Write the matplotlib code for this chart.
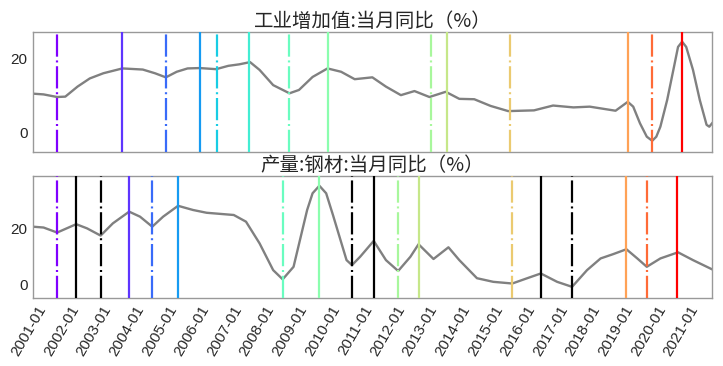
import matplotlib
matplotlib.use("Agg")
import matplotlib.pyplot as plt
import numpy as np

# x = months counted from 2000-01 (0); yearly ticks at every 12th month
tick_pos = list(range(12, 253, 12))
tick_labels = ["%d-01" % y for y in range(2001, 2022)]

# 工业增加值:当月同比
iva_m = [6.1, 10, 15, 18, 22.5, 27, 32, 39, 46.5, 51, 55, 59, 63, 67.5, 73.5, 78, 82, 86,
         89.5, 94.5, 100.5, 104, 109, 114.5, 119.5, 124.5, 131, 136, 141.5, 146.5, 152,
         158, 163, 168.5, 174.5, 181, 190.5, 197.5, 205, 211, 220.5, 225, 227, 229.5,
         232, 234, 235.5, 237, 239.5, 242, 243.5, 245, 246.5, 249, 251.5, 254, 255, 256]
iva_v = [10.5, 10.3, 9.6, 9.7, 12.4, 14.6, 16.0, 17.3, 17.0, 16.0, 14.9, 16.4, 17.3,
         17.4, 17.1, 18.0, 18.4, 19.0, 16.9, 12.8, 10.6, 11.5, 15.0, 17.3, 16.4, 14.4,
         14.9, 12.4, 10.1, 11.2, 9.6, 11.0, 9.1, 9.0, 7.2, 5.8, 6.0, 7.3, 6.8, 7.0,
         5.9, 8.3, 7.0, 2.5, -1.1, -2.2, -1.1, 1.6, 8.8, 17.7, 23.1, 24.5, 23.1, 16.9,
         8.8, 2.1, 1.6, 2.5]

# 产量:钢材:当月同比
steel_m = [6.1, 10, 15, 22, 26, 31, 35.5, 41.5, 45.5, 50, 54, 59.5, 65, 70, 80, 84.5,
           89.5, 94.5, 98, 102, 107, 109, 111.5, 114, 116.5, 121.5, 123.5, 126.5, 131.5,
           136, 140.5, 145, 148, 153.5, 159, 163, 169.5, 175.5, 182.5, 188, 193, 199,
           204.5, 210, 215, 219.5, 224.5, 228.5, 232, 237, 243.5, 249, 256]
steel_v = [20.6, 20.3, 18.5, 21.5, 20.0, 17.4, 21.8, 26.0, 24.2, 20.6, 24.2, 28.1, 26.6,
           25.6, 24.8, 22.4, 14.6, 5.0, 1.7, 6.2, 26.6, 32.6, 35.3, 32.6, 24.8, 8.6,
           6.8, 9.8, 15.5, 8.6, 4.7, 9.8, 14.3, 9.0, 13.2, 8.6, 2.1, 0.8, 0.2, 2.1, 3.8,
           0.8, -1.0, 5.0, 9.2, 10.7, 12.5, 9.2, 6.2, 9.2, 11.4, 8.6, 5.3]

# turning points: troughs (dash-dot) / peaks (solid); matched ones coloured
iva_turns = [15, 39, 55, 67.5, 74, 85.5, 100.5, 114.5, 152.5, 158.5, 181.5, 225, 234, 245]
iva_kind = ["T", "P"] * 7
steel_turns = [15, 41.5, 50, 59.5, 98, 111.5, 140.5, 148, 182.5, 224.5, 232, 243]
steel_kind = ["T", "P"] * 6
steel_match = [0, 1, 2, 3, 6, 7, 8, 9, 10, 11, 12, 13]
steel_extra_peaks = [22, 131.5, 193]
steel_extra_troughs = [31, 123.5, 204.5]

colors = plt.cm.rainbow([0, .07, .14, .21, .3, .38, .46, .52, .58, .64, .71, .78, .86, 1.0])
dd = (0, (10, 1.7, 0.9, 1.7))

plt.rcParams['font.family'] = ['Liberation Sans', 'DejaVu Sans']
fig = plt.figure(figsize=(7.23, 3.66), dpi=100)
ax1 = fig.add_axes([0.0456, 0.5839, 0.9392, 0.3295])
ax2 = fig.add_axes([0.0456, 0.1866, 0.9392, 0.3325])

ax1.plot(iva_m, iva_v, color="grey", lw=1.7, zorder=2)
for i, (t, k) in enumerate(zip(iva_turns, iva_kind)):
    ax1.axvline(t, color=colors[i], lw=1.6, ls=dd if k == "T" else "-", zorder=3)

ax2.plot(steel_m, steel_v, color="grey", lw=1.7, zorder=2)
for t, k, m in zip(steel_turns, steel_kind, steel_match):
    ax2.axvline(t, color=colors[m], lw=1.6, ls=dd if k == "T" else "-", zorder=3)
for t in steel_extra_peaks:
    ax2.axvline(t, color="black", lw=1.6, zorder=3)
for t in steel_extra_troughs:
    ax2.axvline(t, color="black", lw=1.6, ls=dd, zorder=3)

ax1.set_ylim(-5.3, 27.2)
ax2.set_ylim(-4.9, 38.8)
for ax in (ax1, ax2):
    ax.set_xlim(6.1, 256)
    ax.set_yticks([0, 20])
    ax.set_xticks(tick_pos)
    for s in ax.spines.values():
        s.set_color("#999999")
        s.set_linewidth(1)
    ax.tick_params(length=0, labelsize=11, labelcolor="#262626", pad=4)

ax1.set_xticklabels([])
ax2.set_xticklabels(tick_labels, rotation=60, ha="right")

cjk = ['Noto Sans CJK SC', 'DejaVu Sans']
ax1.set_title("工业增加值:当月同比（%）", family=cjk, fontsize=14, color="#262626", pad=2)
ax2.set_title("产量:钢材:当月同比（%）", family=cjk, fontsize=14, color="#262626", pad=2)

fig.savefig("out.png", dpi=100)
